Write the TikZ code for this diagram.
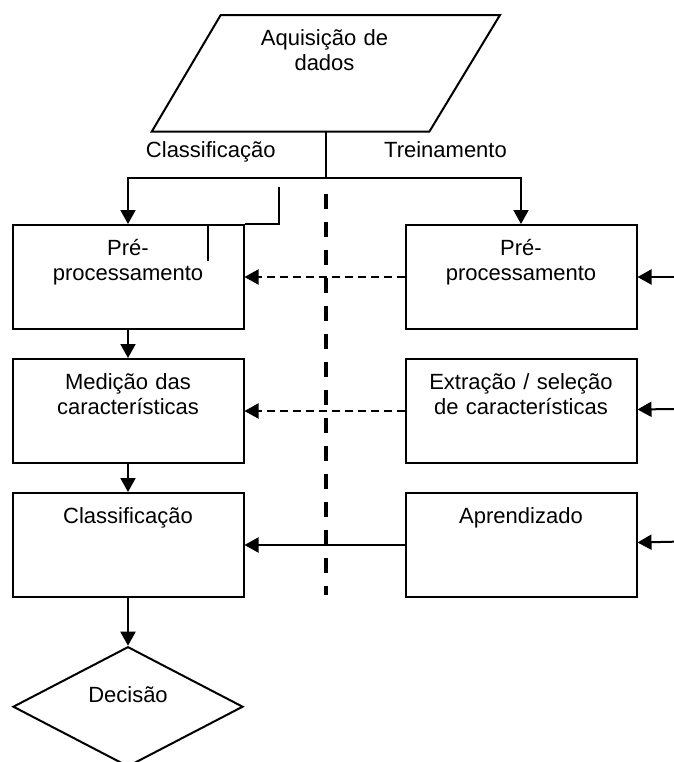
\documentclass[tikz,border=0pt]{standalone}
\usepackage{fontspec}
\setmainfont{Liberation Sans}
\usetikzlibrary{shapes.geometric, arrows.meta, positioning}

\tikzset{
  box/.style={draw, line width=1pt, inner sep=0pt, text width=115.5pt, align=center, text height=15pt, text depth=37pt},
  arr/.style={line width=1pt, -{Triangle[length=7pt,width=7.5pt]}},
  dasharr/.style={arr, dash pattern=on 4pt off 2.5pt},
  divider/.style={line width=1.7pt, dash pattern=on 7.5pt off 6.5pt},
}

\begin{document}
\begin{tikzpicture}[x=0.5pt, y=-0.5pt, font=\fontsize{11}{12.5}\selectfont]
\useasboundingbox (0,0) rectangle (674,762);
\clip (0,0) rectangle (674,762);

% Data input
\draw[line width=1pt] (220.7,15) -- (500,15) -- (429.3,131.7) -- (151.7,131.7) -- cycle;
\node[anchor=north, align=center, inner sep=0pt, text width=100pt, text height=8pt] (acq) at (324.5,29) {Aquisição de\\dados};
\coordinate (acqb) at (325.8,131.7);
\coordinate (split) at (325.8,178.3);
\node[anchor=base] (lcls) at (210.8,157) {Classificação};
\node[anchor=base] (ltrn) at (445.5,157) {Treinamento};

% Classification side
\node[box] (pre1) at (128,277) {Pré-\\processamento};
\node[box, below=14pt of pre1] (med) {Medição das\\características};
\node[box, below=14pt of med] (cls) {Classificação};
\node[diamond, draw, line width=1pt, aspect=1.92, minimum width=115pt, minimum height=60pt, inner sep=0pt] (dec) at (128,706.7) {};
\node (dectxt) at ([yshift=5.8pt]dec.center) {Decisão};

% Training side
\node[box, right=80pt of pre1] (pre2) {Pré-\\processamento};
\node[box, right=80pt of med] (ext) {Extração / seleção\\de características};
\node[box, right=80pt of cls] (apr) {Aprendizado};

\coordinate (in1) at (674,277);
\coordinate (in2) at (674,409);
\coordinate (in3) at (674,541.7);

% stray strokes
\draw[line width=1pt] (279,187) |- (pre1.north east);
\draw[line width=1pt] (208,225) -- (208,261);

\draw[divider] (325.8,194) -- (325.8,595);

\draw[line width=1pt] (acqb) -- (split);
\draw[arr] (split) -| (pre1.north);
\draw[arr] (split) -| (pre2.north);
\draw[arr] (pre1) -- (med);
\draw[arr] (med) -- (cls);
\draw[arr] (cls) -- (dec);

\draw[dasharr] (pre2) -- (pre1);
\draw[dasharr] (ext) -- (med);
\draw[arr] (apr) -- (cls);

\draw[arr] (in1) -- (pre2);
\draw[arr] (in2) -- (ext);
\draw[arr] (in3) -- (apr);
\end{tikzpicture}
\end{document}
